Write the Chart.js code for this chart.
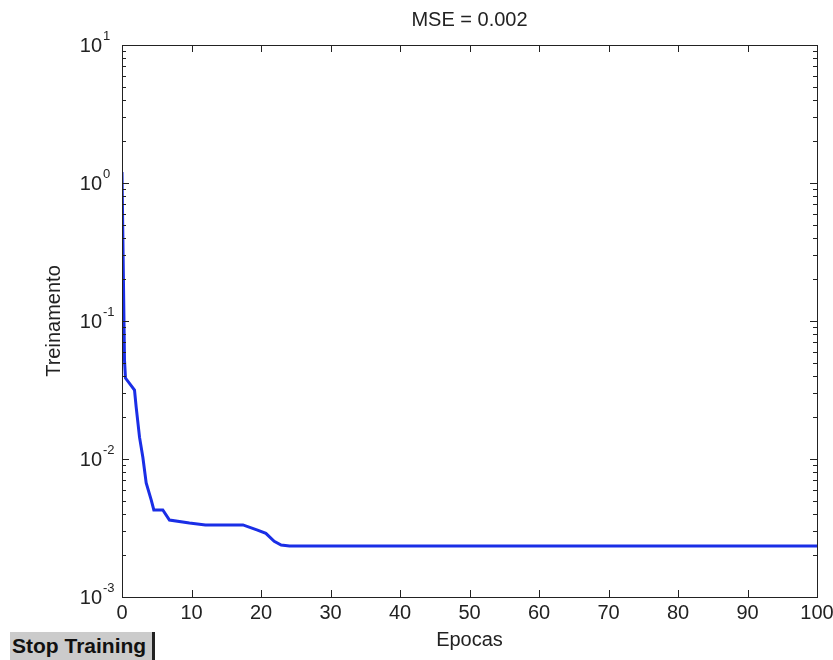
<!DOCTYPE html>
<html>
<head>
<meta charset="utf-8">
<script src="https://cdn.jsdelivr.net/npm/chart.js@4/dist/chart.umd.min.js"></script>
<style>
  html, body { margin: 0; padding: 0; background: #fff; }
  #wrap { position: relative; width: 833px; height: 660px; overflow: hidden; }
  #c { position: absolute; left: 0; top: 0; }
  #stop {
    position: absolute; left: 10px; top: 632px; width: 145px; height: 34px;
    background: #cbcbcb; border-right: 3px solid #222;
    font: bold 21px "Liberation Sans", Arial, sans-serif; color: #111;
    box-sizing: border-box;
  }
  #stop span { position: absolute; left: 2px; top: 2px; white-space: nowrap; line-height: 24px; }
</style>
</head>
<body>
<div id="wrap">
  <canvas id="c" width="833" height="660"></canvas>
  <div id="stop"><span>Stop Training</span></div>
</div>
<script>
// ---- data ----
const epochs    = [0,   0.36, 0.5,    1.8,    2.04,   2.52,   3.0,    3.48,   4.2,    4.58,   5.87,   6.83,   9.7,    12,     17.4,   19.5,   20.7,   21.9,   22.9,   24.1,   100];
const mseValues = [1.2, 0.052,0.0386, 0.0316, 0.0238, 0.0144, 0.0103, 0.0067, 0.00505,0.00427,0.00427,0.00361,0.00344,0.00333,0.00333,0.00305,0.00289,0.00253,0.00238,0.00234,0.00234];
const xTicks = [0,10,20,30,40,50,60,70,80,90,100];
const yDecades = [0.001,0.01,0.1,1,10];
const yExponents = ['-3','-2','-1','0','1'];
const titleText = 'MSE = 0.002';
const xLabel = 'Epocas';
const yLabel = 'Treinamento';

const FONT = '"Liberation Sans", Arial, sans-serif';

const axesPlugin = {
  id: 'matlabAxes',
  afterDatasetsDraw(chart) {
    const ctx = chart.ctx;
    const xs = chart.scales.x, ys = chart.scales.y;
    const a = chart.chartArea;
    ctx.save();
    ctx.strokeStyle = '#222';
    ctx.lineWidth = 1;
    ctx.strokeRect(Math.round(a.left) + 0.5, Math.round(a.top) + 0.5,
                   Math.round(a.right - a.left), Math.round(a.bottom - a.top));
    ctx.beginPath();
    xTicks.forEach(v => {
      const px = Math.round(xs.getPixelForValue(v)) + 0.5;
      ctx.moveTo(px, a.bottom); ctx.lineTo(px, a.bottom - 7);
      ctx.moveTo(px, a.top); ctx.lineTo(px, a.top + 7);
    });
    yDecades.forEach((d, i) => {
      const py = Math.round(ys.getPixelForValue(d)) + 0.5;
      ctx.moveTo(a.left, py); ctx.lineTo(a.left + 7, py);
      ctx.moveTo(a.right, py); ctx.lineTo(a.right - 7, py);
      if (i < yDecades.length - 1) {
        for (let m = 2; m <= 9; m++) {
          const pm = Math.round(ys.getPixelForValue(d * m)) + 0.5;
          ctx.moveTo(a.left, pm); ctx.lineTo(a.left + 4, pm);
          ctx.moveTo(a.right, pm); ctx.lineTo(a.right - 4, pm);
        }
      }
    });
    ctx.stroke();

    ctx.fillStyle = '#222';
    ctx.font = '20px ' + FONT;
    ctx.textAlign = 'center';
    ctx.textBaseline = 'middle';
    xTicks.forEach(v => {
      ctx.fillText(String(v), xs.getPixelForValue(v), a.bottom + 16);
    });
    yDecades.forEach((d, i) => {
      const py = ys.getPixelForValue(d);
      ctx.font = '20px ' + FONT;
      ctx.textAlign = 'right';
      ctx.textBaseline = 'middle';
      ctx.fillText('10', a.left - 20, py + 1);
      ctx.font = '13px ' + FONT;
      ctx.textAlign = 'left';
      ctx.fillText(yExponents[i], a.left - 19, py - 9);
    });
    ctx.font = '20px ' + FONT;
    ctx.textAlign = 'center';
    ctx.textBaseline = 'middle';
    ctx.fillText(titleText, (a.left + a.right) / 2, 20);
    ctx.fillText(xLabel, (a.left + a.right) / 2, a.bottom + 43);
    ctx.save();
    ctx.translate(54, (a.top + a.bottom) / 2);
    ctx.rotate(-Math.PI / 2);
    ctx.fillText(yLabel, 0, 0);
    ctx.restore();
    ctx.restore();
  }
};

new Chart(document.getElementById('c'), {
  type: 'line',
  data: {
    datasets: [{
      data: epochs.map((e, i) => ({ x: e, y: mseValues[i] })),
      borderColor: '#1a2ee6',
      borderWidth: 3,
      pointRadius: 0,
      tension: 0,
      fill: false
    }]
  },
  options: {
    responsive: false,
    animation: false,
    events: [],
    layout: { padding: { left: 122, right: 16, top: 45, bottom: 63 } },
    plugins: { legend: { display: false }, title: { display: false }, tooltip: { enabled: false } },
    scales: {
      x: { type: 'linear', min: 0, max: 100, display: false },
      y: { type: 'logarithmic', min: 0.001, max: 10, display: false }
    }
  },
  plugins: [axesPlugin]
});
</script>
</body>
</html>
